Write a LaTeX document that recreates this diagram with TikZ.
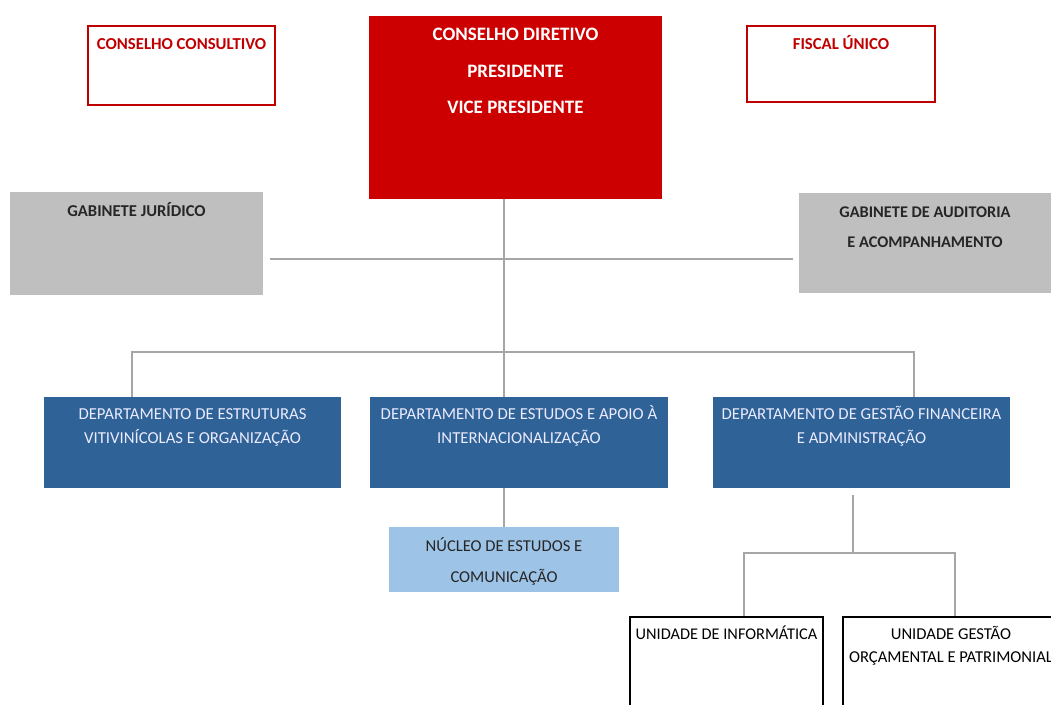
\documentclass[tikz,border=0pt]{standalone}
\usepackage{fontspec}
\setmainfont{Carlito}
\usetikzlibrary{fit}

\definecolor{dirred}{HTML}{CC0000}
\definecolor{framered}{HTML}{C00000}
\definecolor{gabgray}{HTML}{BFBFBF}
\definecolor{deptblue}{HTML}{2F6296}
\definecolor{nucblue}{HTML}{9DC3E6}
\definecolor{linegray}{HTML}{A6A6A6}

\begin{document}
\begin{tikzpicture}[x=0.025cm, y=-0.025cm,
    link/.style={draw=linegray, line width=1.5pt},
    redframe/.style={draw=framered, line width=1.6pt, inner sep=0},
    dirbox/.style={fill=dirred, inner sep=0},
    gabbox/.style={fill=gabgray, inner sep=0},
    deptbox/.style={fill=deptblue, inner sep=0},
    nucbox/.style={fill=nucblue, inner sep=0},
    unitbox/.style={draw=black, line width=0.8pt, inner sep=0},
    toptext/.style={anchor=base, inner sep=0, align=center}
]

\useasboundingbox (0,0) rectangle (1051,704);
\clip (0,0) rectangle (1051,704);

\node[redframe, fit={(88,26)(275,105)}, label={[toptext, yshift=-17.8pt, text=framered, font=\fontsize{11.9}{14}\selectfont\bfseries]north:CONSELHO CONSULTIVO}] (consultivo) {};
\node[dirbox, fit={(369,16)(662,199)}, label={[toptext, yshift=-69.8pt, text=white, font=\fontsize{13.5}{26}\selectfont\bfseries]north:CONSELHO DIRETIVO\\PRESIDENTE\\VICE PRESIDENTE}] (diretivo) {};
\node[redframe, fit={(747,26)(935,102)}, label={[toptext, yshift=-17.8pt, text=framered, font=\fontsize{11.9}{14}\selectfont\bfseries]north:FISCAL ÚNICO}] (fiscal) {};

\node[gabbox, fit={(10,192)(263,295)}, label={[toptext, yshift=-17.7pt, text=black!85, font=\fontsize{11.8}{14}\selectfont\bfseries]north:GABINETE JURÍDICO}] (juridico) {};
\node[gabbox, fit={(799,193)(1051,293)}, label={[toptext, yshift=-39pt, text=black!85, font=\fontsize{11.6}{21.3}\selectfont\bfseries]north:GABINETE DE AUDITORIA\\E ACOMPANHAMENTO}] (auditoria) {};

\node[deptbox, fit={(44,397)(341,488)}, label={[toptext, yshift=-33.2pt, text=blue!8, font=\fontsize{11.9}{17.1}\selectfont]north:DEPARTAMENTO DE ESTRUTURAS\\VITIVINÍCOLAS E ORGANIZAÇÃO}] (estruturas) {};
\node[deptbox, fit={(370,397)(668,488)}, label={[toptext, yshift=-33.2pt, text=blue!8, font=\fontsize{11.9}{17.1}\selectfont]north:DEPARTAMENTO DE ESTUDOS E APOIO À\\INTERNACIONALIZAÇÃO}] (estudos) {};
\node[deptbox, fit={(713,397)(1010,488)}, label={[toptext, yshift=-33.2pt, text=blue!8, font=\fontsize{11.9}{17.1}\selectfont]north:DEPARTAMENTO DE GESTÃO FINANCEIRA\\E ADMINISTRAÇÃO}] (gestaofin) {};

\node[nucbox, fit={(389,527)(619,592)}, label={[toptext, yshift=-39.5pt, text=black!85, font=\fontsize{11.8}{22}\selectfont]north:NÚCLEO DE ESTUDOS E\\COMUNICAÇÃO}] (nucleo) {};

\node[unitbox, fit={(630,617)(823,720)}, label={[toptext, yshift=-16.2pt, text=black, font=\fontsize{11.6}{16.4}\selectfont]north:UNIDADE DE INFORMÁTICA}] (informatica) {};
\node[unitbox, fit={(843,617)(1059,720)}, label={[toptext, yshift=-32.6pt, text=black, font=\fontsize{11.8}{16.4}\selectfont]north:UNIDADE GESTÃO\\ORÇAMENTAL E PATRIMONIAL}] (orcamental) {};

\coordinate (gabline) at (504,259);
\coordinate (trunk) at (504,352);
\coordinate (busL) at (132,352);
\coordinate (busR) at (914,352);
\coordinate (fork) at (853,553);
\coordinate (forkL) at (744,553);
\coordinate (forkR) at (955,553);

\draw[link] (diretivo.south -| trunk) -- (trunk);
\draw[link] ([xshift=5pt]juridico.east |- gabline) -- ([xshift=-4pt]auditoria.west |- gabline);
\draw[link] (estruturas.north -| busL) -- (busL) -- (busR) -- (gestaofin.north -| busR);
\draw[link] (trunk) -- (estudos.north -| trunk);
\draw[link] (estudos.south -| trunk) -- (nucleo.north -| trunk);
\draw[link] ([yshift=-5pt]gestaofin.south -| fork) -- (fork);
\draw[link] (informatica.north -| forkL) -- (forkL) -- (forkR) -- (orcamental.north -| forkR);

\end{tikzpicture}
\end{document}
